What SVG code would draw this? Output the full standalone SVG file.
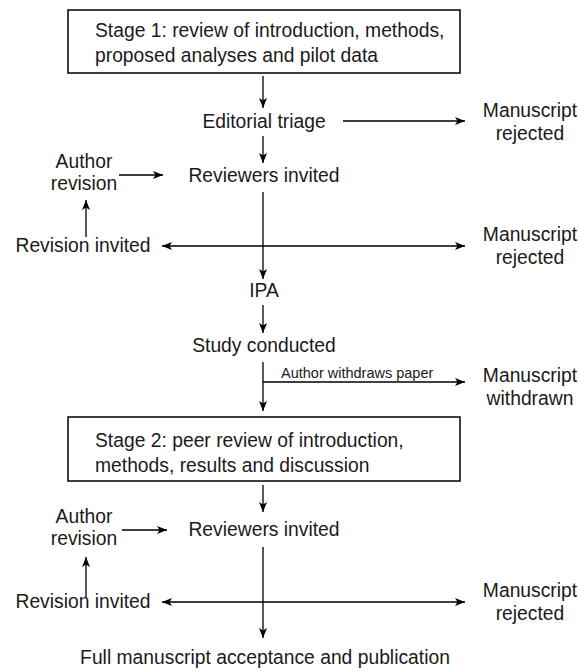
<svg xmlns="http://www.w3.org/2000/svg" width="579" height="671" viewBox="0 0 579 671">
<defs>
<marker id="ah" viewBox="0 0 10 10" refX="10" refY="5" markerWidth="10" markerHeight="10" markerUnits="userSpaceOnUse" orient="auto-start-reverse">
<path d="M0,1 L10,5 L0,9 L2.5,5 Z" fill="#000"/>
</marker>
<style>
text{font-family:"Liberation Sans",Arial,sans-serif;font-size:19.3px;fill:#1a1a1a}
.c{text-anchor:middle}
.s{font-size:14.5px}
.box{fill:#fff;stroke:#000;stroke-width:1.5}
.ln{stroke:#000;stroke-width:1.3;fill:none}
.ar{marker-end:url(#ah)}
.ar2{marker-start:url(#ah);marker-end:url(#ah)}
</style>
</defs>
<rect width="579" height="671" fill="#fff"/>
<g id="stage1">
<rect class="box" x="68" y="10" width="392" height="63"/>
<text x="95" y="37">Stage 1: review of introduction, methods,</text>
<text x="95" y="62">proposed analyses and pilot data</text>
</g>
<g id="triage"><text class="c" x="264" y="128">Editorial triage</text></g>
<g id="rej1"><text class="c" x="530" y="117">Manuscript</text><text class="c" x="530" y="140">rejected</text></g>
<g id="rev1"><text class="c" x="264" y="182">Reviewers invited</text></g>
<g id="auth1"><text class="c" x="84" y="168">Author</text><text class="c" x="84" y="190">revision</text></g>
<g id="revinv1"><text class="c" x="83" y="252">Revision invited</text></g>
<g id="rej2"><text class="c" x="530" y="241">Manuscript</text><text class="c" x="530" y="264">rejected</text></g>
<g id="ipa"><text class="c" x="264" y="297">IPA</text></g>
<g id="study"><text class="c" x="264" y="352">Study conducted</text></g>
<g id="withdrawn"><text class="c" x="530" y="382">Manuscript</text><text class="c" x="530" y="405">withdrawn</text></g>
<g id="stage2">
<rect class="box" x="68" y="417" width="392" height="64"/>
<text x="95" y="447">Stage 2: peer review of introduction,</text>
<text x="95" y="472">methods, results and discussion</text>
</g>
<g id="rev2"><text class="c" x="264" y="536">Reviewers invited</text></g>
<g id="auth2"><text class="c" x="84" y="523">Author</text><text class="c" x="84" y="545">revision</text></g>
<g id="revinv2"><text class="c" x="83" y="608">Revision invited</text></g>
<g id="rej3"><text class="c" x="530" y="597">Manuscript</text><text class="c" x="530" y="620">rejected</text></g>
<g id="final"><text class="c" x="265" y="664">Full manuscript acceptance and publication</text></g>
<g id="connectors">
<line class="ln ar" x1="263" y1="76" x2="263" y2="108"/>
<line class="ln ar" x1="343" y1="121" x2="465" y2="121"/>
<line class="ln ar" x1="263" y1="136" x2="263" y2="163"/>
<line class="ln ar" x1="119" y1="175" x2="163" y2="175"/>
<line class="ln ar" x1="86" y1="237" x2="86" y2="200"/>
<line class="ln ar2" x1="162" y1="246" x2="465" y2="246"/>
<line class="ln ar" x1="263" y1="192" x2="263" y2="279"/>
<line class="ln ar" x1="263" y1="305" x2="263" y2="333"/>
<line class="ln" x1="263" y1="362" x2="263" y2="382"/>
<line class="ln ar" x1="263" y1="382" x2="465" y2="382"/>
<line class="ln ar" x1="263" y1="382" x2="263" y2="411"/>
<text class="s" x="281" y="378">Author withdraws paper</text>
<line class="ln ar" x1="263" y1="485" x2="263" y2="512"/>
<line class="ln ar" x1="122" y1="530" x2="167" y2="530"/>
<line class="ln ar" x1="86" y1="597" x2="86" y2="557"/>
<line class="ln ar2" x1="162" y1="602" x2="465" y2="602"/>
<line class="ln ar" x1="263" y1="547" x2="263" y2="638"/>
</g>
</svg>
